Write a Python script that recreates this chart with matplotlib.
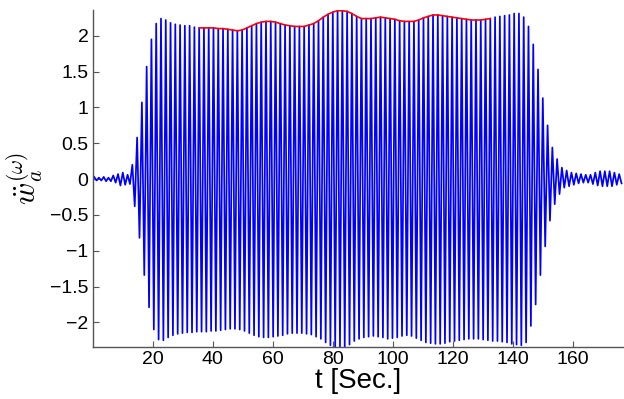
import matplotlib
matplotlib.use("Agg")
import matplotlib.pyplot as plt
import numpy as np

plt.rcParams['mathtext.fontset'] = 'cm'
plt.rcParams['font.family'] = ['Liberation Sans', 'DejaVu Sans']

# oscillation: one period, time of first positive peak
period = 1.59
t_first = 0.48

# positive peak of every cycle
pos_peaks = [
    0.03, 0.02, 0.03, 0.02, 0.05, 0.07, 0.09, 0.06, 0.20, 0.58,
    1.07, 1.57, 1.95, 2.17, 2.24, 2.22, 2.18, 2.16, 2.15, 2.14,
    2.14, 2.12, 2.11, 2.11, 2.11, 2.11, 2.10, 2.10, 2.09, 2.08,
    2.07, 2.08, 2.11, 2.14, 2.17, 2.19, 2.20, 2.20, 2.19, 2.17,
    2.15, 2.14, 2.13, 2.13, 2.13, 2.15, 2.17, 2.21, 2.26, 2.30,
    2.33, 2.35, 2.35, 2.34, 2.31, 2.27, 2.24, 2.24, 2.24, 2.25,
    2.26, 2.25, 2.24, 2.23, 2.21, 2.20, 2.20, 2.20, 2.22, 2.25,
    2.27, 2.29, 2.29, 2.28, 2.27, 2.26, 2.25, 2.24, 2.23, 2.22,
    2.22, 2.22, 2.23, 2.24, 2.26, 2.27, 2.28, 2.29, 2.31, 2.31,
    2.26, 2.13, 1.88, 1.53, 1.13, 0.75, 0.44, 0.28, 0.16, 0.12,
    0.09, 0.08, 0.07, 0.06, 0.06, 0.09, 0.11, 0.11, 0.11, 0.09,
    0.07,
]

# negative peak of every cycle (half a period later)
neg_peaks = [
    -0.02, -0.02, -0.03, -0.03, -0.05, -0.09, -0.08, -0.07, -0.38, -0.82,
    -1.34, -1.79, -2.10, -2.24, -2.25, -2.21, -2.18, -2.16, -2.15, -2.14,
    -2.14, -2.13, -2.13, -2.13, -2.12, -2.12, -2.11, -2.10, -2.09, -2.09,
    -2.10, -2.12, -2.15, -2.18, -2.20, -2.21, -2.21, -2.20, -2.19, -2.18,
    -2.16, -2.15, -2.15, -2.15, -2.16, -2.17, -2.20, -2.23, -2.28, -2.32,
    -2.34, -2.34, -2.34, -2.31, -2.26, -2.23, -2.21, -2.20, -2.19, -2.20,
    -2.21, -2.23, -2.22, -2.21, -2.19, -2.18, -2.19, -2.22, -2.25, -2.28,
    -2.29, -2.30, -2.30, -2.29, -2.27, -2.26, -2.25, -2.24, -2.23, -2.23,
    -2.23, -2.24, -2.25, -2.26, -2.26, -2.27, -2.28, -2.30, -2.31, -2.32,
    -2.28, -2.05, -1.75, -1.34, -0.94, -0.58, -0.35, -0.21, -0.12, -0.10,
    -0.08, -0.06, -0.05, -0.05, -0.07, -0.09, -0.10, -0.10, -0.10, -0.08,
    -0.06,
]

# cycles covered by the red envelope
env_first, env_last = 22, 83

yticks = [-2, -1.5, -1, -0.5, 0, 0.5, 1, 1.5, 2]
ytick_labels = ['\u22122', '\u22121.5', '\u22121', '\u22120.5', '0', '0.5', '1', '1.5', '2']
xticks = [20, 40, 60, 80, 100, 120, 140, 160]

k = np.arange(len(pos_peaks))
t_pos = t_first + period * k
t_neg = t_pos + period / 2
t = np.column_stack([t_pos, t_neg]).ravel()
w = np.column_stack([pos_peaks, neg_peaks]).ravel()

fig = plt.figure(figsize=(6.24, 3.99), dpi=100)
ax = fig.add_axes([0.1486, 0.131, 0.85, 0.844])

ax.plot(t, w, color='blue', lw=1.25)
ax.plot(t_pos[env_first:env_last + 1], pos_peaks[env_first:env_last + 1],
        color='red', lw=1.2)

ax.set_xlim(0, 176.7)
ax.set_ylim(-2.34, 2.36)
ax.set_xticks(xticks)
ax.set_yticks(yticks)
ax.set_yticklabels(ytick_labels)

for s in ['top', 'right']:
    ax.spines[s].set_visible(False)
for s in ['left', 'bottom']:
    ax.spines[s].set_color('#555555')
    ax.spines[s].set_linewidth(1.0)
ax.tick_params(direction='in', length=4, width=0.8, color='#555555',
               labelsize=14, pad=3)

ax.set_xlabel('t [Sec.]', fontsize=20, labelpad=0)
ax.set_ylabel(r'$\ddot{w}_a^{(\omega)}$', fontsize=22, labelpad=3)

fig.savefig('out.png', dpi=100)
